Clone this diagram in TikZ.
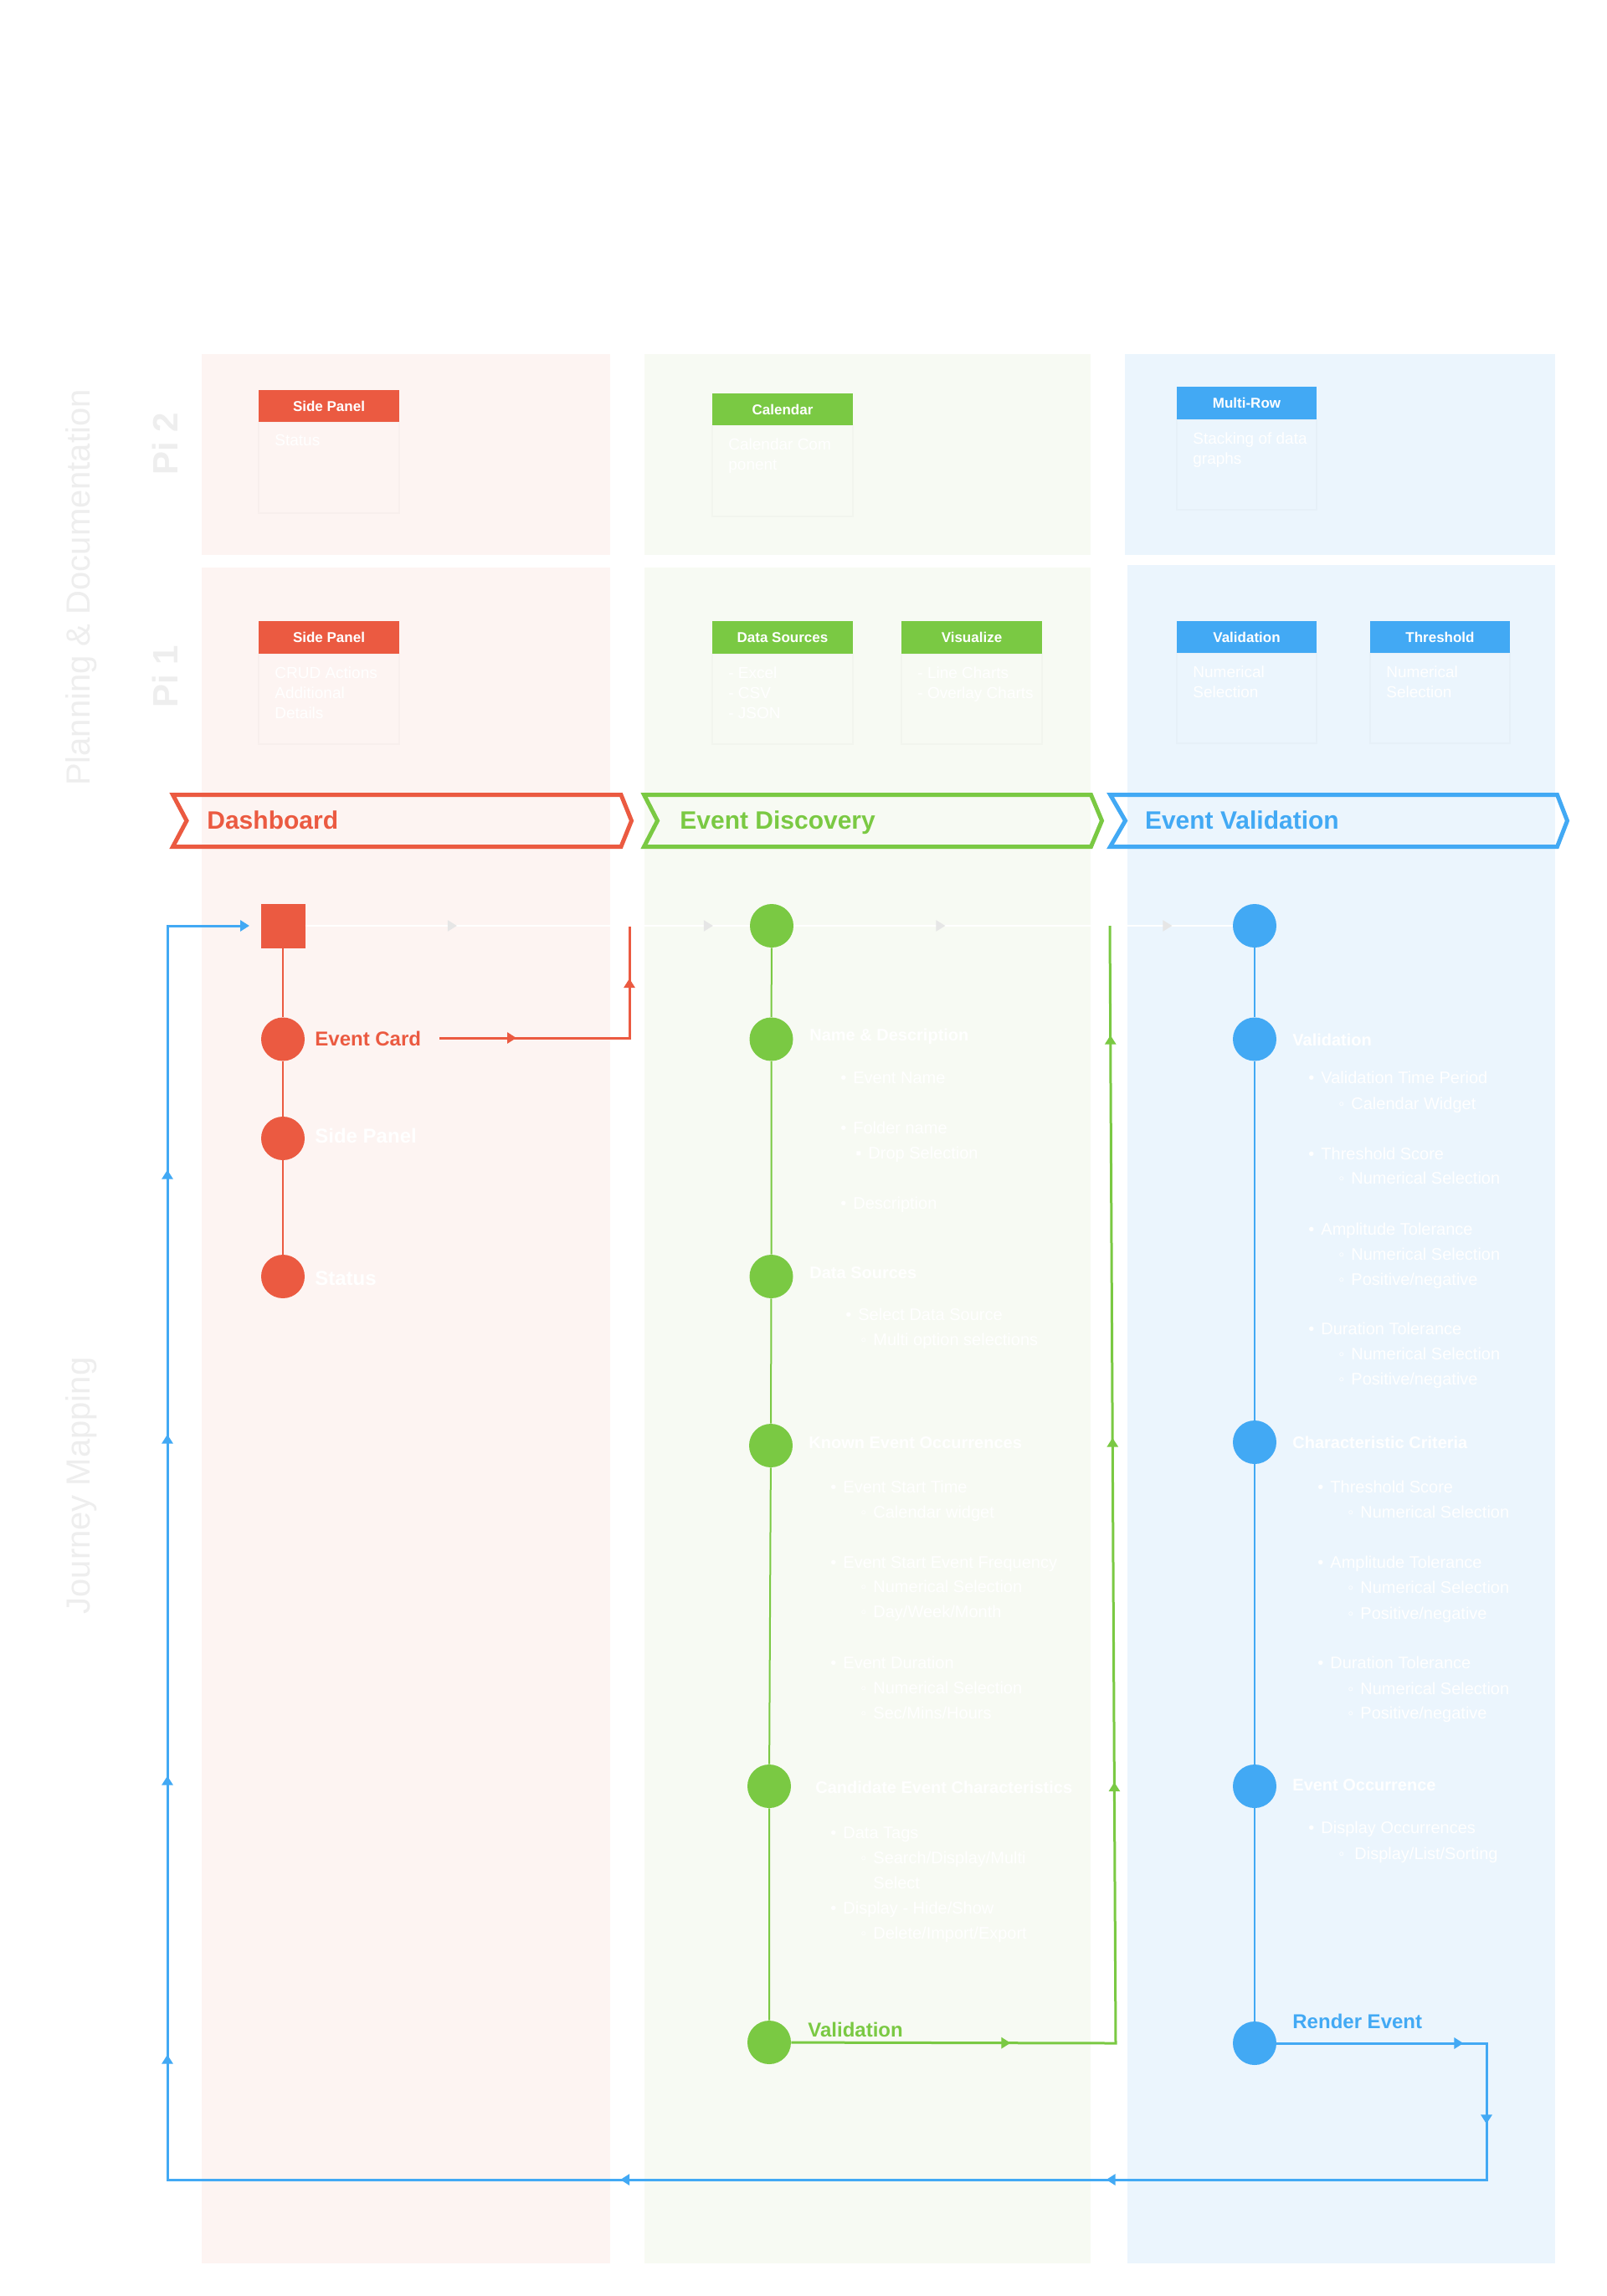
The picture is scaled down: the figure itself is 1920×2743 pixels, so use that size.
\documentclass[tikz,border=0pt]{standalone}
\usepackage{fontspec}
\setmainfont{Liberation Sans}
\usetikzlibrary{arrows.meta,decorations.markings}
\definecolor{cred}{HTML}{EB5A41}
\definecolor{cgreen}{HTML}{7AC943}
\definecolor{cblue}{HTML}{42A9F4}
\definecolor{pinkbg}{HTML}{FDF4F2}
\definecolor{greenbg}{HTML}{F7FAF3}
\definecolor{bluebg}{HTML}{EBF5FD}
\definecolor{lblgray}{HTML}{EEEEEE}
\definecolor{faintarr}{HTML}{E6E6E6}
\tikzset{
  marr/.style={postaction={decorate,decoration={markings,mark=at position #1 with {\arrow{Triangle[width=6.5pt,length=5.5pt]}}}}},
  farr/.style={postaction={decorate,decoration={markings,mark=at position #1 with {\arrow{Triangle[width=6.5pt,length=5.5pt,color=faintarr]}}}}},
  cardbody/.style={draw=black,draw opacity=0.018,line width=0.8pt},
  cardtitle/.style={inner sep=0,text=white,font=\fontsize{8.5}{10}\bfseries},
  cardtext/.style={anchor=north west,align=left,inner sep=0,text=white,font=\fontsize{9.5}{12}\selectfont},
  sidelbl/.style={rotate=90,anchor=base,inner sep=0,text=lblgray,font=\fontsize{20}{24}\selectfont},
  pilbl/.style={rotate=90,anchor=base,inner sep=0,text=lblgray,font=\fontsize{21}{24}\bfseries},
  chev/.style={line width=2.5pt,line join=miter},
  chevlbl/.style={anchor=base west,inner sep=0,font=\fontsize{15}{18}\bfseries},
  dot/.style={circle,minimum size=26pt,inner sep=0,draw=none,fill=#1},
  sqnode/.style={rectangle,minimum size=26.5pt,inner sep=0,fill=cred},
  chainline/.style={line width=1pt,draw=#1},
  loopline/.style={line width=1.5pt,draw=#1,line join=miter},
  faintline/.style={line width=1pt,draw=white},
  evlbl/.style={anchor=base west,inner sep=0,font=\fontsize{12}{14}\bfseries},
  wtitle/.style={anchor=mid west,inner sep=0,text=white,font=\fontsize{10}{12}\bfseries},
  witem/.style={anchor=mid west,inner sep=0,text=white,font=\fontsize{10}{12}\selectfont},
}
\newcommand\cardbox[9]{%
  \draw[cardbody] (#2,#5) rectangle (#4,#6);
  \fill[#7] (#2,#3) rectangle (#4,#5);
  \node[cardtitle] (#1) at ({(#2+#4)/2},{(#3+#5)/2}) {#8};
  \node[cardtext] (#1t) at ({#2+19},{#5+15}) {#9};
}
\begin{document}
\begin{tikzpicture}[x=0.5pt,y=-0.5pt]
\useasboundingbox (0,0) rectangle (1920,2743);
\fill[white] (0,0) rectangle (1920,2743);

% column panels
\fill[pinkbg] (241,423) rectangle (729,663);
\fill[pinkbg] (241,678) rectangle (729,2704);
\fill[greenbg] (770,423) rectangle (1303,663);
\fill[greenbg] (770,678) rectangle (1303,2704);
\fill[bluebg] (1344,423) rectangle (1858,663);
\fill[bluebg] (1347,675) rectangle (1858,2704);

% side labels
\node[sidelbl] (plan) at (107,702) {Planning \& Documentation};
\node[sidelbl] (journey) at (107,1775) {Journey Mapping};
\node[pilbl] (pi2) at (212,530) {Pi 2};
\node[pilbl] (pi1) at (212,808) {Pi 1};

% cards
\cardbox{cpa}{309}{466}{477}{504}{613}{cred}{Side Panel}{Status}
\cardbox{cpb}{309}{742}{477}{781}{889}{cred}{Side Panel}{CRUD Actions\\Additional\\Details}
\cardbox{cga}{851}{470}{1019}{508}{617}{cgreen}{Calendar}{Calendar Com\\ponent}
\cardbox{cgb}{851}{742}{1019}{781}{889}{cgreen}{Data Sources}{- Excel\\- CSV\\- JSON}
\cardbox{cgc}{1077}{742}{1245}{781}{889}{cgreen}{Visualize}{- Line Charts\\- Overlay Charts}
\cardbox{cba}{1406}{462}{1573}{501}{609}{cblue}{Multi-Row}{Stacking of data\\graphs}
\cardbox{cbb}{1406}{742}{1573}{780}{888}{cblue}{Validation}{Numerical\\Selection}
\cardbox{cbc}{1637}{742}{1804}{780}{888}{cblue}{Threshold}{Numerical\\Selection}

% chevrons
\draw[chev,cred] (206.5,949.5) -- (742,949.5) -- (754.5,980.5) -- (742,1011.5) -- (206.5,1011.5) -- (223,980.5) -- cycle;
\draw[chev,cgreen] (769.5,949.5) -- (1303.5,949.5) -- (1316.5,980.5) -- (1303.5,1011.5) -- (769.5,1011.5) -- (785.5,980.5) -- cycle;
\draw[chev,cblue] (1326.5,949.5) -- (1860.5,949.5) -- (1872.5,980.5) -- (1860.5,1011.5) -- (1326.5,1011.5) -- (1344.5,980.5) -- cycle;
\node[chevlbl,text=cred] (chd) at (247,990.7) {Dashboard};
\node[chevlbl,text=cgreen] (che) at (812,990.7) {Event Discovery};
\node[chevlbl,text=cblue] (chv) at (1367.6,990.7) {Event Validation};

% journey nodes
\node[sqnode] (sq) at (338,1106) {};
\node[dot=cred] (r1) at (338,1241.5) {};
\node[dot=cred] (r2) at (338,1360) {};
\node[dot=cred] (r3) at (338,1525) {};
\node[dot=cgreen] (g1) at (922,1106) {};
\node[dot=cgreen] (g2) at (921.5,1241.5) {};
\node[dot=cgreen] (g3) at (921.5,1525) {};
\node[dot=cgreen] (g4) at (921,1727) {};
\node[dot=cgreen] (g5) at (919,2134) {};
\node[dot=cgreen] (g6) at (919,2440) {};
\node[dot=cblue] (b1) at (1499,1106) {};
\node[dot=cblue] (b2) at (1499,1241.5) {};
\node[dot=cblue] (b3) at (1499,1723) {};
\node[dot=cblue] (b4) at (1499,2134) {};
\node[dot=cblue] (b5) at (1499,2441) {};

% corner coordinates
\coordinate (rs) at (525,1240);
\coordinate (rc) at (752,1240);
\coordinate (rt) at (752,1107);
\coordinate (gc) at (1333,2441);
\coordinate (gt) at (1326,1106);
\coordinate (bca) at (1776,2441);
\coordinate (bcb) at (1776,2604);
\coordinate (bcc) at (200,2604);
\coordinate (bcd) at (200,1106);
\coordinate (bin) at (298,1106);

% faint top flow
\draw[faintline,farr=90.5pt,farr=243.5pt] (sq) -- (g1);
\draw[faintline,farr=90.5pt,farr=226pt] (g1) -- (b1);

% chains
\draw[chainline=cred] (sq) -- (r1) -- (r2) -- (r3);
\draw[chainline=cgreen] (g1) -- (g2) -- (g3) -- (g4) -- (g5) -- (g6);
\draw[chainline=cblue] (b1) -- (b2) -- (b3) -- (b4) -- (b5);

% connectors
\draw[loopline=cred,marr=46pt,marr=149pt] (rs) -- (rc) -- (rt);
\draw[loopline=cgreen,marr=131pt,marr=349.75pt,marr=555.5pt,marr=796pt] (g6) -- (gc) -- (gt);
\draw[loopline=cblue,marr=111.5pt,marr=173.5pt,marr=434pt,marr=724.25pt,marr=1069.5pt,marr=1236pt,marr=1440pt,marr=1598pt,-{Triangle[width=6.5pt,length=5.5pt]}] (b5) -- (bca) -- (bcb) -- (bcc) -- (bcd) -- (bin);

% red labels
\node[evlbl,text=cred] (lr1) at (376,1249) {Event Card};
\node[evlbl,text=white] (lr2) at (376,1365) {Side Panel};
\node[evlbl,text=white] (lr3) at (376,1535) {Status};
\node[evlbl,text=cgreen] (lg6) at (965,2433) {Validation};
\node[evlbl,text=cblue] (lb5) at (1544,2423) {Render Event};

% green details
\node[wtitle] (tg2) at (967,1238) {Name \& Description};
\node[wtitle] (tg3) at (967,1522) {Data Sources};
\node[wtitle] (tg4) at (966,1725) {Known Event Occurrences};
\node[wtitle] (tg5) at (974,2137) {Candidate Event Characteristics};
\foreach \bx/\tx/\yy/\bb/\tt [count=\i] in {
 1004/1019/1289/{•}/{Event Name},
 1004/1019/1349/{•}/{Folder name},
 1022/1037/1379/{▪}/{Drop Selection},
 1004/1019/1439/{•}/{Description},
 1010/1025/1572/{•}/{Select Data Source},
 1028/1043/1602/{◦}/{Multi option selections},
 992/1007/1778/{•}/{Event Start Time},
 1028/1043/1808/{◦}/{Calendar widget},
 992/1007/1868/{•}/{Event Start Event Frequency},
 1028/1043/1897/{◦}/{Numerical Selection},
 1028/1043/1927/{◦}/{Day/Week/Month},
 992/1007/1988/{•}/{Event Duration},
 1028/1043/2018/{◦}/{Numerical Selection},
 1028/1043/2048/{◦}/{Sec/Mins/Hours},
 992/1007/2191/{•}/{Data Tags},
 1028/1043/2221/{◦}/{Search/Display/Multi},
 992/1007/2281/{•}/{Display - Hide/Show},
 1028/1043/2311/{◦}/{Delete/Import/Export}}
 {\node[witem] (gbul\i) at (\bx,\yy) {\bb};
  \node[witem] (gtxt\i) at (\tx,\yy) {\tt};}
\node[witem] (gsel) at (1043,2251) {Select};

% blue details
\node[wtitle] (tb2) at (1544,1244) {Validation};
\node[wtitle] (tb3) at (1544,1725) {Characteristic Criteria};
\node[wtitle] (tb4) at (1544,2134) {Event Occurrence};
\foreach \bx/\tx/\yy/\bb/\tt [count=\i] in {
 1563/1578/1289/{•}/{Validation Time Period},
 1599/1614/1320/{◦}/{Calendar Widget},
 1563/1578/1380/{•}/{Threshold Score},
 1599/1614/1409/{◦}/{Numerical Selection},
 1563/1578/1470/{•}/{Amplitude Tolerance},
 1599/1614/1500/{◦}/{Numerical Selection},
 1599/1614/1530/{◦}/{Positive/negative},
 1563/1578/1589/{•}/{Duration Tolerance},
 1599/1614/1619/{◦}/{Numerical Selection},
 1599/1614/1649/{◦}/{Positive/negative},
 1574/1589/1778/{•}/{Threshold Score},
 1610/1625/1808/{◦}/{Numerical Selection},
 1574/1589/1868/{•}/{Amplitude Tolerance},
 1610/1625/1898/{◦}/{Numerical Selection},
 1610/1625/1929/{◦}/{Positive/negative},
 1574/1589/1988/{•}/{Duration Tolerance},
 1610/1625/2019/{◦}/{Numerical Selection},
 1610/1625/2048/{◦}/{Positive/negative},
 1563/1578/2185/{•}/{Display Occurrences},
 1599/1618/2216/{◦}/{Display/List/Sorting}}
 {\node[witem] (bbul\i) at (\bx,\yy) {\bb};
  \node[witem] (btxt\i) at (\tx,\yy) {\tt};}
\end{tikzpicture}
\end{document}
